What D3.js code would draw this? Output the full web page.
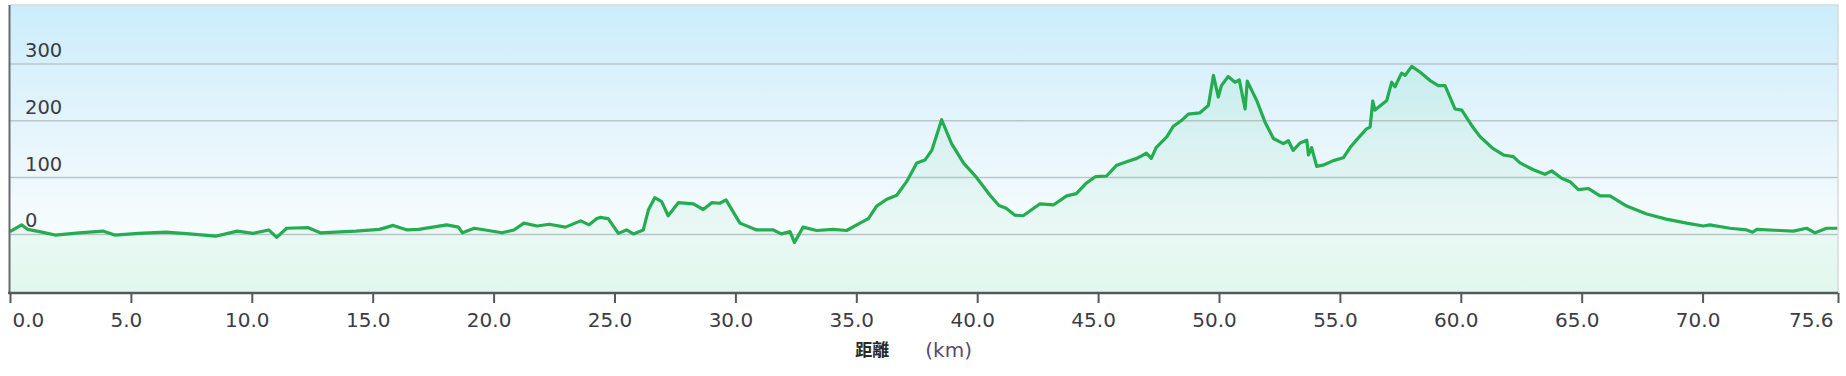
<!DOCTYPE html>
<html>
<head>
<meta charset="utf-8">
<script src="https://cdn.jsdelivr.net/npm/d3@7"></script>
<style>
    html, body { margin: 0; padding: 0; background: #ffffff; }
    #chart { width: 1846px; height: 376px; }
    .tick text { font-family: "DejaVu Sans", Verdana, sans-serif; }
</style>
</head>
<body>
<div id="chart"></div>
<script>
// distance along the route (km) and elevation (m)
var distanceKm = [
    0, 0.48, 0.73, 1.22, 1.87, 2.86, 3.84, 4.33, 5.31, 6.45, 7.43, 8.5, 9.4, 10.05, 10.7, 11.03,
    11.44, 12.34, 12.83, 14.3, 15.28, 15.85, 16.43, 16.9, 18.06, 18.55, 18.71, 19.2, 20.35, 20.84,
    21.25, 21.8, 22.3, 22.97, 23.6, 23.95, 24.27, 24.4, 24.74, 25.16, 25.5, 25.78, 26.19, 26.4,
    26.67, 26.95, 27.22, 27.64, 28.26, 28.67, 29.02, 29.36, 29.61, 30.19, 30.88, 31.57, 31.9,
    32.26, 32.44, 32.8, 33.36, 34.05, 34.6, 35.15, 35.5, 35.84, 36.26, 36.67, 37.08, 37.5, 37.84,
    38.12, 38.53, 38.94, 39.43, 39.98, 40.53, 40.9, 41.2, 41.56, 41.9, 42.6, 43.15, 43.7, 44.1,
    44.5, 44.9, 45.35, 45.77, 46.18, 46.6, 47.0, 47.2, 47.4, 47.84, 48.1, 48.46, 48.73, 49.2,
    49.56, 49.77, 49.97, 50.1, 50.38, 50.66, 50.84, 51.08, 51.17, 51.56, 51.9, 52.25, 52.66,
    52.87, 53.07, 53.35, 53.63, 53.7, 53.83, 54.04, 54.3, 54.73, 55.14, 55.42, 55.7, 56.1, 56.25,
    56.36, 56.45, 56.94, 57.14, 57.28, 57.55, 57.7, 57.97, 58.31, 58.73, 59.07, 59.35, 59.76,
    60.04, 60.45, 60.8, 61.34, 61.76, 62.17, 62.45, 63.0, 63.48, 63.76, 64.17, 64.52, 64.86,
    65.27, 65.76, 66.17, 66.86, 67.69, 68.5, 69.34, 70.03, 70.3, 71.13, 71.82, 72.07, 72.24,
    73.2, 73.75, 74.3, 74.65, 75.13, 75.6
];
var elevationM = [
    4, 16, 8, 4, -2, 2, 5, -2, 1, 3, 0, -4, 5, 1, 7, -6,
    10, 11, 2, 5, 8, 15, 7, 8, 16, 12, 2, 10, 2, 7,
    19, 14, 17, 12, 23, 16, 27, 29, 27, 1, 7, 0, 7, 42,
    64, 57, 32, 55, 53, 43, 55, 54, 60, 19, 7, 7, 0,
    4, -15, 12, 6, 8, 6, 19, 27, 49, 61, 68, 92, 125, 130,
    147, 201, 159, 125, 99, 68, 50, 45, 33, 32, 53, 51, 67, 71,
    89, 101, 102, 121, 127, 133, 142, 133, 152, 171, 189, 200, 211, 213,
    226, 279, 241, 261, 277, 267, 271, 220, 269, 235, 197, 168, 159,
    164, 147, 160, 165, 139, 152, 119, 121, 129, 134, 152, 166, 185, 188,
    234, 218, 235, 267, 259, 283, 279, 295, 285, 270, 261, 261, 220,
    218, 191, 171, 150, 139, 136, 125, 113, 105, 111, 98, 92, 78,
    80, 67, 67, 49, 35, 26, 19, 14, 16, 10, 7, 3, 8,
    6, 5, 10, 2, 10, 10
];
var xTickValues = [0, 5, 10, 15, 20, 25, 30, 35, 40, 45, 50, 55, 60, 65, 70, 75.6];
var yTickValues = [0, 100, 200, 300];
var xDomain = [0, 75.6];
var yDomain = [-104, 403];

var width = 1846, height = 376;
var plot = {left: 10, right: 1838, top: 5, bottom: 293};

var points = distanceKm.map(function(d, i) { return {km: d, m: elevationM[i]}; });

var x = d3.scaleLinear().domain(xDomain).range([plot.left, plot.right]);
var y = d3.scaleLinear().domain(yDomain).range([plot.bottom, plot.top]);

var svg = d3.select("#chart").append("svg")
    .attr("width", width)
    .attr("height", height);

var defs = svg.append("defs");
var sky = defs.append("linearGradient")
    .attr("id", "sky").attr("x1", 0).attr("y1", 0).attr("x2", 0).attr("y2", 1);
sky.append("stop").attr("offset", "0%").attr("stop-color", "#cbedfb");
sky.append("stop").attr("offset", "45%").attr("stop-color", "#e6f5fc");
sky.append("stop").attr("offset", "78%").attr("stop-color", "#f6fcfd");
sky.append("stop").attr("offset", "100%").attr("stop-color", "#eafaf3");

var fillGrad = defs.append("linearGradient")
    .attr("id", "area-fill").attr("gradientUnits", "userSpaceOnUse")
    .attr("x1", 0).attr("y1", y(300)).attr("x2", 0).attr("y2", plot.bottom);
fillGrad.append("stop").attr("offset", "0%").attr("stop-color", "#2fbf5f").attr("stop-opacity", 0.09);
fillGrad.append("stop").attr("offset", "100%").attr("stop-color", "#2fbf7f").attr("stop-opacity", 0.05);

// plot background
svg.append("rect")
    .attr("x", plot.left).attr("y", plot.top)
    .attr("width", plot.right - plot.left).attr("height", plot.bottom - plot.top)
    .attr("fill", "url(#sky)");

// grid lines with labels sitting just above them
var yAxis = svg.append("g")
    .attr("transform", "translate(" + plot.left + ",0)")
    .call(d3.axisRight(y).tickValues(yTickValues).tickSize(plot.right - plot.left));
yAxis.select(".domain").remove();
yAxis.selectAll(".tick line").attr("stroke", "#bcc6ca").attr("stroke-width", 1.5);
yAxis.selectAll(".tick text")
    .attr("x", 15).attr("dy", -7)
    .attr("text-anchor", "start")
    .attr("fill", "#3c3c46")
    .style("font-size", "19.5px");

// the elevation area and line
svg.append("path")
    .datum(points)
    .attr("fill", "url(#area-fill)")
    .attr("d", d3.area().x(function(d) { return x(d.km); }).y0(plot.bottom).y1(function(d) { return y(d.m); }));
svg.append("path")
    .datum(points)
    .attr("fill", "none")
    .attr("stroke", "#24ad50")
    .attr("stroke-width", 3.2)
    .attr("stroke-linejoin", "round")
    .attr("d", d3.line().x(function(d) { return x(d.km); }).y(function(d) { return y(d.m); }));

// frame: light top/right, dark left
svg.append("path")
    .attr("d", "M" + plot.left + "," + plot.top + "H" + plot.right + "V" + plot.bottom)
    .attr("fill", "none").attr("stroke", "#d6dadc").attr("stroke-width", 1.5);
svg.append("line")
    .attr("x1", plot.left - 0.5).attr("x2", plot.left - 0.5)
    .attr("y1", plot.top).attr("y2", plot.bottom)
    .attr("stroke", "#666a6e").attr("stroke-width", 2);

// distance axis
var xAxis = svg.append("g")
    .attr("transform", "translate(0," + plot.bottom + ")")
    .call(d3.axisBottom(x).tickValues(xTickValues).tickSize(10).tickPadding(10)
        .tickFormat(d3.format(".1f")));
xAxis.select(".domain")
    .attr("d", "M" + (plot.left - 2) + ",0H" + plot.right)
    .attr("stroke", "#55595c").attr("stroke-width", 2.5);
xAxis.selectAll(".tick line").attr("stroke", "#55595c").attr("stroke-width", 2);
xAxis.selectAll(".tick text")
    .attr("fill", "#3c3c46")
    .attr("dx", -5)
    .style("font-size", "20px");
xAxis.selectAll(".tick text").filter(function(d) { return d === xDomain[0]; })
    .attr("text-anchor", "start").attr("dx", 2);
xAxis.selectAll(".tick text").filter(function(d) { return d === xDomain[1]; })
    .attr("text-anchor", "end").attr("dx", -5);

// axis title
var title = svg.append("g").attr("transform", "translate(" + (x(35) - 1) + ",356)");
title.append("text")
    .attr("font-family", "'Noto Sans CJK JP', sans-serif")
    .attr("font-size", "17px")
    .attr("font-weight", 700)
    .attr("fill", "#2a2a2a")
    .text("距離");
title.append("text")
    .attr("x", 70)
    .attr("y", 1)
    .attr("font-family", "'DejaVu Sans', Verdana, sans-serif")
    .attr("font-size", "20px")
    .attr("fill", "#5a4a6e")
    .text("(km)");
</script>
</body>
</html>
